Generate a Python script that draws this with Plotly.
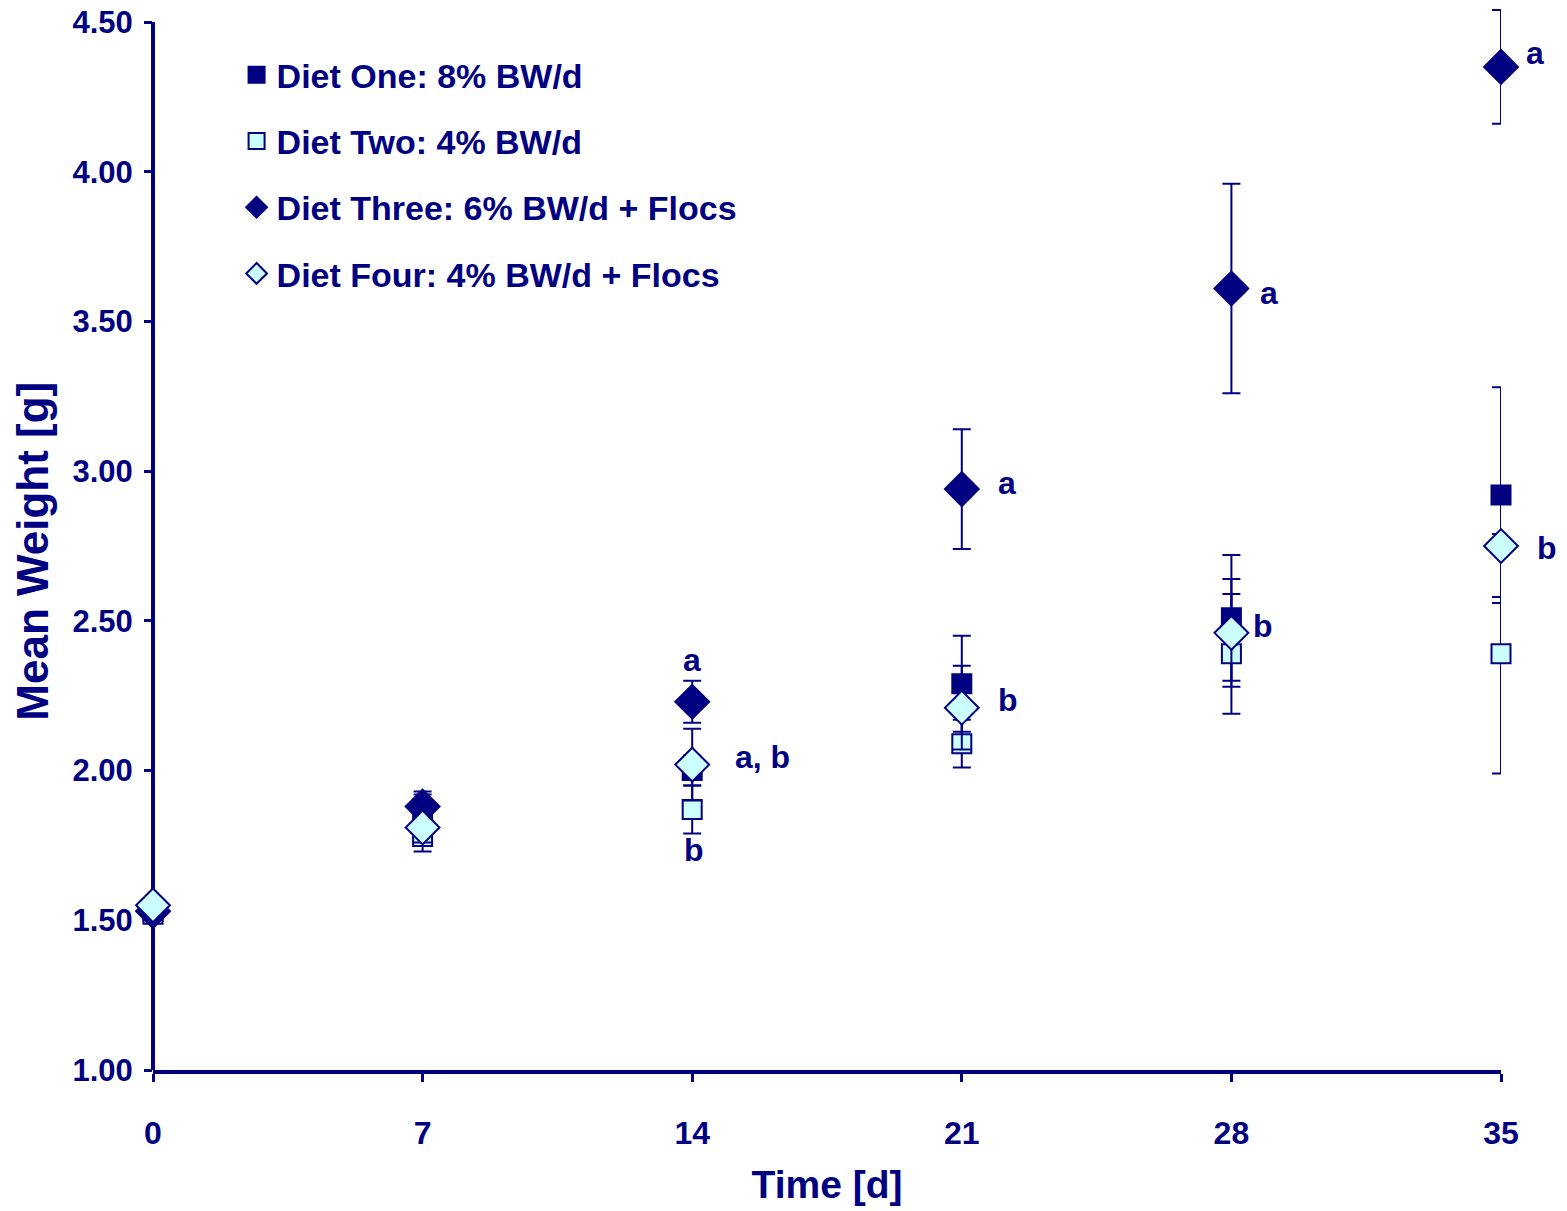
import plotly.graph_objects as go

days = [0, 7, 14, 21, 28, 35]
series_names = ["Diet One: 8% BW/d", "Diet Two: 4% BW/d",
                "Diet Three: 6% BW/d + Flocs", "Diet Four: 4% BW/d + Flocs"]
diet_one = [1.53, 1.86, 2.00, 2.29, 2.51, 2.92]
diet_one_err = [0.02, 0.06, 0.05, 0.16, 0.21, 0.36]
diet_two = [1.52, 1.78, 1.87, 2.09, 2.39, 2.39]
diet_two_err = [0.02, 0.05, 0.08, 0.08, 0.20, 0.40]
diet_three = [1.53, 1.88, 2.23, 2.94, 3.61, 4.35]
diet_three_err = [0.02, 0.05, 0.07, 0.20, 0.35, 0.19]
diet_four = [1.55, 1.81, 2.02, 2.21, 2.46, 2.75]
diet_four_err = [0.02, 0.05, 0.12, 0.14, 0.18, 0.17]

# significance letters
label_day = [14, 14, 14, 21, 21, 28, 28, 35, 35]
label_y = [2.37, 2.045, 1.735, 2.96, 2.235, 3.595, 2.483, 4.397, 2.743]
label_text = ["a", "a, b", "b", "a", "b", "a", "b", "a", "b"]
label_shift = [0, 70, 2, 45, 46, 38, 32, 34, 46]

y_ticks = [1.0, 1.5, 2.0, 2.5, 3.0, 3.5, 4.0, 4.5]
y_tick_text = ["1.00", "1.50", "2.00", "2.50", "3.00", "3.50", "4.00", "4.50"]
y_min, y_axis_top, y_view_top = 1.0, 4.5, 4.5468

NAVY = "#000080"
LIGHT = "#CCFFFF"
FONT = "Liberation Sans"

fig = go.Figure()
specs = [
    (diet_one, diet_one_err, "square", NAVY, 19),
    (diet_two, diet_two_err, "square", LIGHT, 19),
    (diet_three, diet_three_err, "diamond", NAVY, 26),
    (diet_four, diet_four_err, "diamond", LIGHT, 26),
]
for i, (vals, errs, sym, fill, sz) in enumerate(specs):
    fig.add_trace(go.Scatter(
        x=days, y=vals, mode="markers", name=f"<b>{series_names[i]}</b>",
        legendgroup=f"g{i}",
        marker=dict(symbol=sym, size=sz, color=fill, line=dict(color=NAVY, width=2)),
        error_y=dict(type="data", array=errs, visible=True, color=NAVY, thickness=2, width=9),
        cliponaxis=False,
    ))

for d, yv, t, s in zip(label_day, label_y, label_text, label_shift):
    fig.add_annotation(x=d, y=yv, text=f"<b>{t}</b>", showarrow=False, xshift=s,
                       font=dict(family=FONT, size=32, color=NAVY), xanchor="center")

# y axis line stops at the top tick (4.50); paper coords so it is not clipped
axis_top_frac = (y_axis_top - y_min) / (y_view_top - y_min)
fig.add_shape(type="line", xref="paper", yref="paper", x0=0, x1=0, y0=0, y1=axis_top_frac,
              line=dict(color=NAVY, width=4), layer="below")

fig.update_layout(
    width=1567, height=1211,
    paper_bgcolor="white", plot_bgcolor="rgba(0,0,0,0)",
    margin=dict(l=145, r=74, t=0, b=149),
    font=dict(family=FONT, color=NAVY),
    showlegend=True,
    legend=dict(x=0.062, y=0.964, xanchor="left", yanchor="top",
                bgcolor="rgba(0,0,0,0)", traceorder="grouped", tracegroupgap=19,
                font=dict(family=FONT, size=34, color=NAVY), itemsizing="trace"),
    xaxis=dict(range=[0, 35], tickvals=days, ticktext=[f"<b>{d}</b>" for d in days],
               showgrid=False, zeroline=False, showline=True, linecolor=NAVY, linewidth=4,
               ticks="outside", ticklen=8, tickwidth=3, tickcolor=NAVY, ticklabelstandoff=24,
               tickfont=dict(family=FONT, size=32, color=NAVY), layer="below traces",
               automargin=False,
               title=dict(text="<b>Time [d]</b>", font=dict(family=FONT, size=39, color=NAVY), standoff=21)),
    yaxis=dict(range=[y_min, y_view_top], tickvals=y_ticks, ticktext=[f"<b>{t}</b>" for t in y_tick_text],
               showgrid=False, zeroline=False, showline=False,
               ticks="outside", ticklen=8, tickwidth=3, tickcolor=NAVY, ticklabelstandoff=5,
               ticklabeloverflow="allow",
               tickfont=dict(family=FONT, size=31, color=NAVY), layer="below traces",
               automargin=False,
               title=dict(text="<b>Mean Weight [g]</b>&nbsp;&nbsp;", font=dict(family=FONT, size=44, color=NAVY), standoff=10)),
)

fig.write_html("out.html")
